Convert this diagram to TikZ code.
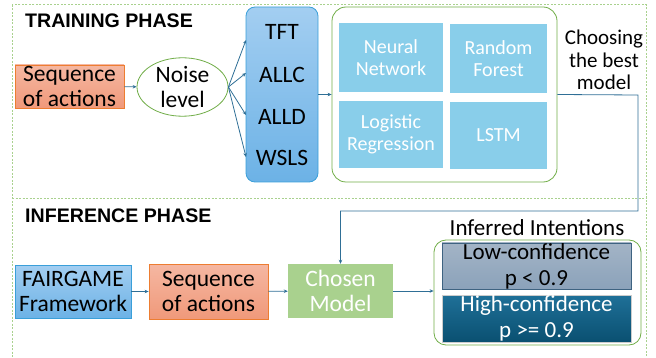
\documentclass[tikz,border=0pt]{standalone}
\usepackage{fontspec}
\setmainfont{Carlito}
\newfontfamily\headfont{Liberation Sans}
\usetikzlibrary{shapes.geometric,arrows.meta}

\definecolor{salmonT}{HTML}{F5B7A2}
\definecolor{salmonB}{HTML}{F0997A}
\definecolor{salmonD}{HTML}{ED7D31}
\definecolor{skyT}{HTML}{A3CEF1}
\definecolor{skyB}{HTML}{6CB2E6}
\definecolor{skyD}{HTML}{3A9FD9}
\definecolor{leafD}{HTML}{70AD47}
\definecolor{leafL}{HTML}{A9D18E}
\definecolor{modelC}{HTML}{89CEEA}
\definecolor{slateT}{HTML}{A3B4C6}
\definecolor{slateB}{HTML}{8BA2BA}
\definecolor{slateD}{HTML}{3E6381}
\definecolor{tealT}{HTML}{1F7098}
\definecolor{tealB}{HTML}{0A5071}
\definecolor{wire}{HTML}{2F6F96}

\tikzset{
    phase/.style={draw=leafL, line width=1pt, dash pattern=on 2pt off 1.5pt},
    title/.style={font=\headfont\fontsize{19.6}{22}\selectfont\bfseries, anchor=west, inner sep=0pt},
    body/.style={font=\fontsize{23.5}{25}\selectfont},
    seqbox/.style={draw=salmonD, line width=0.8pt, top color=salmonT, bottom color=salmonB,
        align=center, body, inner sep=0pt},
    skybox/.style={draw=skyD, line width=0.8pt, top color=skyT, bottom color=skyB,
        align=center, body, inner sep=0pt},
    modelbox/.style={fill=modelC, text=white, align=center,
        font=\fontsize{20}{22}\selectfont, inner sep=0pt},
    plain/.style={align=center, font=\fontsize{21}{22.5}\selectfont, inner sep=0pt},
    wirearrow/.style={draw=wire, line width=0.8pt, -{Stealth[length=4pt,width=3.5pt]}}
}

\begin{document}
\begin{tikzpicture}[x=1pt,y=-1pt]
    \useasboundingbox (0,0) rectangle (656,358);

    % phase frames
    \draw[phase] (12,5) rectangle (646,364);
    \draw[phase] (12,199) -- (646,199);
    \node[title] (trainT) at (25,21) {TRAINING PHASE};
    \node[title] (inferT) at (25,216) {INFERENCE PHASE};

    % training row
    \node[seqbox, minimum width=109pt, minimum height=43pt] (seqA) at (69.5,86.5) {Sequence\\of actions};
    \node[ellipse, draw=leafD, line width=0.8pt, fill=white, minimum width=91pt, minimum height=50pt,
        inner sep=0pt, align=center, body] (noise) at (182.5,87) {Noise\\level};

    \node[skybox, rounded corners=9pt, minimum width=72pt, minimum height=175pt] (strat) at (282,94.5) {};
    \node[plain, body] (tft)  at (282,32)  {TFT};
    \node[plain, body] (allc) at (282,75)  {ALLC};
    \node[plain, body] (alld) at (282,117) {ALLD};
    \node[plain, body] (wsls) at (282,158) {WSLS};

    \coordinate (in1) at (246,40);
    \coordinate (in2) at (246,73);
    \coordinate (in3) at (246,115);
    \coordinate (in4) at (246,157);

    \node[draw=leafD, line width=0.8pt, rounded corners=14pt, minimum width=225pt, minimum height=175pt] (models) at (444.5,94.5) {};
    \node[modelbox, minimum width=104pt, minimum height=69pt] (nn)   at (391,57.5)   {Neural\\Network};
    \node[modelbox, minimum width=97pt,  minimum height=69pt] (rf)   at (498.5,58.5) {Random\\Forest};
    \node[modelbox, minimum width=104pt, minimum height=67pt] (lr)   at (391,134.5)  {Logistic\\Regression};
    \node[modelbox, minimum width=97pt,  minimum height=67pt] (lstm) at (498.5,135.5) {LSTM};

    \node[plain] (choose) at (604,60) {Choosing\\the best\\model};

    % inference row
    \node[skybox, minimum width=116pt, minimum height=53pt] (fair) at (73,291.5) {FAIRGAME\\Framework};
    \node[seqbox, minimum width=119pt, minimum height=55pt] (seqB) at (208.5,291.5) {Sequence\\of actions};
    \node[fill=leafL, text=white, align=center, inner sep=0pt, minimum width=105pt, minimum height=54pt,
        body] (chosen) at (340.5,291) {Chosen\\Model};

    \node[plain, font=\fontsize{23}{25}\selectfont] (inferred) at (537,228) {Inferred Intentions};
    \node[draw=leafD, line width=0.8pt, rounded corners=12pt, minimum width=207pt, minimum height=105pt] (intent) at (537.5,292.5) {};
    \node[draw=slateD, line width=0.8pt, top color=slateT, bottom color=slateB, align=center, inner sep=0pt,
        minimum width=189pt, minimum height=46pt, font=\fontsize{23}{26}\selectfont] (low) at (536.5,266) {Low-confidence\\p < 0.9};
    \node[draw=white!80!black, line width=0.5pt, top color=tealT, bottom color=tealB, text=white, align=center, inner sep=0pt,
        minimum width=189pt, minimum height=47pt, font=\fontsize{23}{26}\selectfont] (high) at (536.5,318.5) {High-confidence\\p >= 0.9};

    % connectors
    \draw[wirearrow] (seqA) -- (noise);
    \foreach \k in {1,2,3,4}
        \draw[wirearrow] (noise.east) -- (in\k);
    \draw[wirearrow] (strat.east) -- (models.west);
    \draw[wirearrow] (models.east) -- (638,95) -- (638,211) -| (chosen.north);
    \draw[wirearrow] (fair) -- (seqB);
    \draw[wirearrow] (seqB) -- (chosen);
    \draw[wirearrow] (chosen) -- (intent.west |- chosen);
\end{tikzpicture}
\end{document}
